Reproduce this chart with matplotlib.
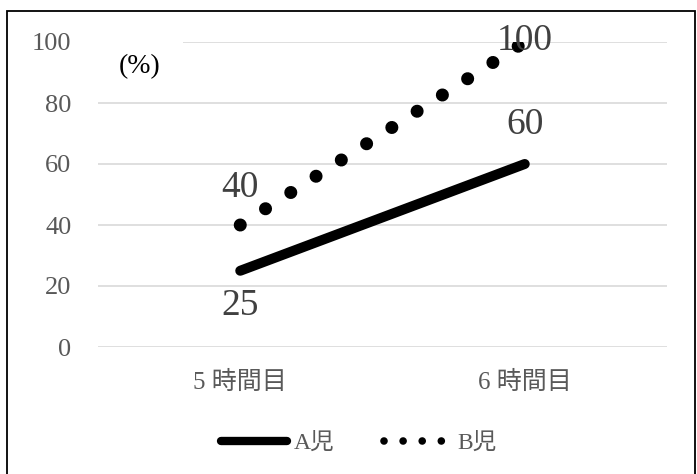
import matplotlib
matplotlib.use("Agg")
import matplotlib.pyplot as plt
from matplotlib.lines import Line2D
from matplotlib.patches import Rectangle

# class periods and the share (%) for each child
periods = ["5 時間目", "6 時間目"]
child_a = [25, 60]
child_b = [40, 100]
yticks = [0, 20, 40, 60, 80, 100]

plt.rcParams["font.family"] = ["Liberation Serif", "Noto Sans CJK JP"]

W, H = 697, 474
fig = plt.figure(figsize=(W / 100, H / 100), dpi=100)

# outer frame of the chart
fig.add_artist(Rectangle((7 / W, -0.05), 688 / W, 1.05 - 11 / H,
                         transform=fig.transFigure, fill=False,
                         edgecolor="black", lw=1.3))

ax = fig.add_axes([98 / W, (H - 347) / H, 569 / W, 305 / H])
x = list(range(len(periods)))

ax.plot(x, child_a, color="black", lw=7.2, solid_capstyle="round", zorder=3)
ax.plot(x, child_b, color="black", lw=9.4, linestyle=(0, (0.001, 2.3)),
        dash_capstyle="round", zorder=3)

ax.set_xlim(-0.5, 1.5)
ax.set_ylim(0, 100)
ax.set_yticks(yticks)
ax.set_xticks(x)
ax.set_xticklabels(periods, fontsize=18, color="#595959")
ax.tick_params(axis="y", labelsize=19, labelcolor="#595959", length=0, pad=19)
ax.tick_params(axis="x", length=0, pad=17)
ax.grid(axis="y", color="#d9d9d9", lw=1.2)
ax.set_axisbelow(True)
for s in ax.spines.values():
    s.set_visible(False)

# data labels
lab = dict(fontsize=27, color="#404040", ha="center", va="center",
           textcoords="offset points")
ax.annotate(str(child_a[0]), (x[0], child_a[0]), xytext=(0, -25), **lab)
ax.annotate(str(child_a[1]), (x[1], child_a[1]), xytext=(0, 28), **lab)
ax.annotate(str(child_b[0]), (x[0], child_b[0]), xytext=(0, 27), **lab)
ax.annotate(str(child_b[1]), (x[1], child_b[1]), xytext=(0, 1), **lab)

ax.text(0.074, 0.92, "(%)", transform=ax.transAxes, fontsize=20,
        color="black", ha="center", va="center",
        bbox=dict(facecolor="white", edgecolor="none", pad=16))

handles = [
    Line2D([], [], color="black", lw=6, solid_capstyle="round"),
    Line2D([], [], color="black", lw=5.5, linestyle=(0, (0.001, 2.5)),
           dash_capstyle="round"),
]
fig.legend(handles, ["A児", "B児"], loc="center", bbox_to_anchor=(0.515, 1 - 443 / H),
           ncol=2, frameon=False, fontsize=17, labelcolor="#595959",
           handlelength=2.8, handletextpad=0.3, columnspacing=2.1)

fig.savefig("out.png", dpi=100)
